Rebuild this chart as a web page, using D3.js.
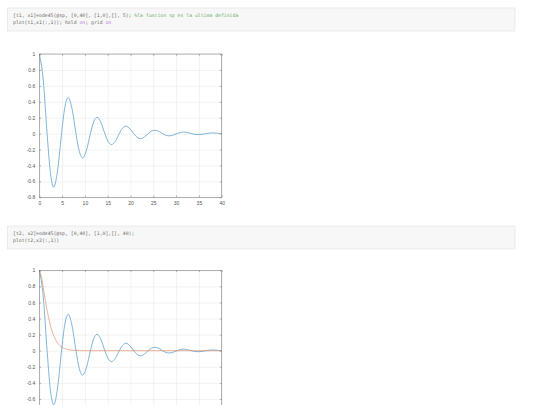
<!DOCTYPE html>
<html>
<head>
<meta charset="utf-8">
<script src="https://cdn.jsdelivr.net/npm/d3@7"></script>
<style>
  body { margin: 0; background: #fff; }
  .tick text { font-family: "Liberation Sans", Arial, sans-serif; font-size: 5px; fill: #555; }
  .axis path.domain { display: none; }
  .axis line { stroke: #6a6a6a; stroke-width: 0.5; }
  .grid line { stroke: #e5e5e5; stroke-width: 0.5; }
  .grid path.domain { display: none; }
  .code { font-family: "DejaVu Sans Mono", "Liberation Mono", monospace; font-size: 4.8px; }
</style>
</head>
<body>
<svg id="page" width="540" height="405"></svg>
<script>
// blue: response of the first ode45 call
const tBlue = [0, 0.855, 1.709, 2.438, 3.166, 4.021, 4.875, 5.604, 6.333, 7.187, 8.042, 8.771,
  9.499, 10.354, 11.208, 11.937, 12.665, 13.52, 14.374, 15.103, 15.832, 16.686, 17.541, 18.27,
  18.998, 19.853, 20.707, 21.436, 22.164, 23.019, 23.873, 24.602, 25.331, 26.185, 27.04, 27.769,
  28.497, 29.352, 30.206, 30.935, 31.663, 32.518, 33.372, 34.101, 34.83, 35.684, 36.539, 37.268,
  37.996, 38.851, 39.705, 40];
const xBlue = [1, 0.679, 0, -0.492, -0.673, -0.457, 0, 0.331, 0.453, 0.308, 0, -0.223,
  -0.305, -0.207, 0, 0.15, 0.205, 0.139, 0, -0.101, -0.138, -0.094, 0, 0.068,
  0.093, 0.063, 0, -0.046, -0.063, -0.043, 0, 0.031, 0.042, 0.029, 0, -0.021,
  -0.028, -0.019, 0, 0.014, 0.019, 0.013, 0, -0.009, -0.013, -0.009, 0, 0.006,
  0.009, 0.006, 0, -0.002];

// red: response of the second ode45 call
const tRed = [0, 0.5, 1, 1.5, 2, 2.5, 3, 3.5, 4, 4.5, 5, 5.5, 6, 7, 8, 9, 10, 20, 30, 40];
const xRed = [1, 0.91, 0.74, 0.57, 0.42, 0.3, 0.21, 0.145, 0.098, 0.065, 0.042, 0.028, 0.018,
  0.007, 0.003, 0.001, 0, 0, 0, 0];

const xTicks = [0, 5, 10, 15, 20, 25, 30, 35, 40];
const yTicks = [-0.8, -0.6, -0.4, -0.2, 0, 0.2, 0.4, 0.6, 0.8, 1];
const yTickLabels = ["-0.8", "-0.6", "-0.4", "-0.2", "0", "0.2", "0.4", "0.6", "0.8", "1"];

const code1 = [
  [["[t1, x1]=ode45(@sp, [0,40], [1,0],[], 5); ", "#6b6b6b"], ["%la funcion sp es la ultima definida", "#6cae6c"]],
  [["plot(t1,x1(:,1)); hold ", "#6b6b6b"], ["on", "#b87ad8"], ["; grid ", "#6b6b6b"], ["on", "#b87ad8"]]
];
const code2 = [
  [["[t2, x2]=ode45(@sp, [0,40], [1,0],[], 40);", "#6b6b6b"]],
  [["plot(t2,x2(:,1))", "#6b6b6b"]]
];

const svg = d3.select("#page");
const pageH = 405;

function codeBox(y, lines) {
  svg.append("rect").attr("x", 7.5).attr("y", y).attr("width", 507.5).attr("height", 23)
    .attr("fill", "#f7f7f7").attr("stroke", "#e2e2e2").attr("stroke-width", 0.6);
  lines.forEach((parts, i) => {
    let t = svg.append("text").attr("class", "code").attr("x", 13).attr("y", y + 9 + i * 7.2);
    parts.forEach(p => t.append("tspan").attr("fill", p[1]).text(p[0]));
  });
}

codeBox(8, code1);
codeBox(226, code2);

function drawChart(top, bottom, series) {
  let left = 39.3, right = 221.7;
  let x = d3.scaleLinear().domain([0, 40]).range([left, right]);
  let y = d3.scaleLinear().domain([-0.8, 1]).range([bottom, top]);

  let g = svg.append("g");
  g.append("rect").attr("x", left).attr("y", top).attr("width", right - left).attr("height", bottom - top)
    .attr("fill", "#fff");

  g.append("g").attr("class", "grid").attr("transform", "translate(0," + bottom + ")")
    .call(d3.axisBottom(x).tickValues(xTicks).tickSize(-(bottom - top)).tickFormat(""));
  g.append("g").attr("class", "grid").attr("transform", "translate(" + left + ",0)")
    .call(d3.axisLeft(y).tickValues(yTicks).tickSize(-(right - left)).tickFormat(""));

  let line = d3.line().curve(d3.curveMonotoneX)
    .x(d => x(d[0])).y(d => y(d[1]));

  series.forEach(s => {
    g.append("path").datum(d3.zip(s.t, s.v))
      .attr("d", line).attr("fill", "none")
      .attr("stroke", s.color).attr("stroke-width", 0.7);
  });

  // labels that would fall below the window are left out (the picture is cut there)
  let bottomFmt = bottom + 10 < pageH ? d3.format("d") : "";
  g.append("g").attr("class", "axis").attr("transform", "translate(0," + bottom + ")")
    .call(d3.axisBottom(x).tickValues(xTicks).tickSize(-1.8).tickPadding(4).tickFormat(bottomFmt));
  g.append("g").attr("class", "axis").attr("transform", "translate(" + left + ",0)")
    .call(d3.axisLeft(y).tickValues(yTicks.filter(v => y(v) + 3 < pageH)).tickSize(-1.8).tickPadding(4)
      .tickFormat(d => yTickLabels[yTicks.indexOf(d)]));
  g.append("g").attr("class", "axis").attr("transform", "translate(0," + top + ")")
    .call(d3.axisTop(x).tickValues(xTicks).tickSize(-1.8).tickFormat(""));
  g.append("g").attr("class", "axis").attr("transform", "translate(" + right + ",0)")
    .call(d3.axisRight(y).tickValues(yTicks).tickSize(-1.8).tickFormat(""));

  g.append("rect").attr("x", left).attr("y", top).attr("width", right - left).attr("height", bottom - top)
    .attr("fill", "none").attr("stroke", "#808080").attr("stroke-width", 0.6);
}

drawChart(54, 197.3, [{t: tBlue, v: xBlue, color: "#4b95cb"}]);
drawChart(270.3, 415, [
  {t: tBlue, v: xBlue, color: "#4b95cb"},
  {t: tRed, v: xRed, color: "#e2906c"}
]);
</script>
</body>
</html>
